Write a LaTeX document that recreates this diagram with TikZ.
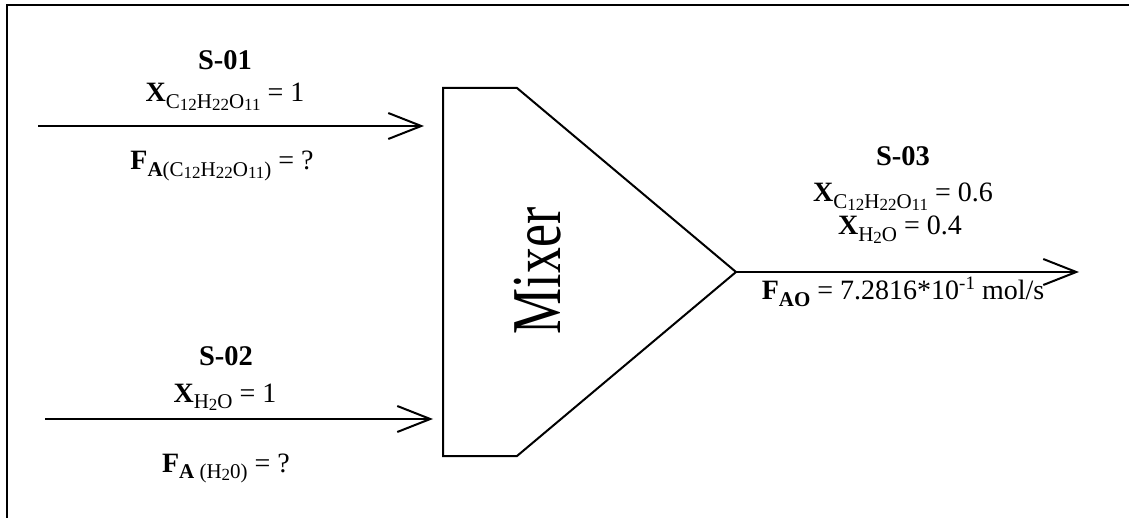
\documentclass[tikz,border=0pt]{standalone}
\usepackage{fontspec}
\usepackage{graphicx}
\setmainfont{Liberation Serif}
\usetikzlibrary{arrows.meta}
\newcommand\lo[1]{\raisebox{-6.5pt}{\fontsize{21}{21}\selectfont #1}}
\newcommand\lolo[1]{\raisebox{-2pt}{\fontsize{17}{17}\selectfont #1}}
\newcommand\sucrose{C\lolo{12}H\lolo{22}O\lolo{11}}
\newcommand\water{H\lolo{2}O}
\begin{document}
\begin{tikzpicture}[x=1pt,y=-1pt,
  lbl/.style={anchor=base,inner sep=0pt,font=\fontsize{28}{28}\selectfont},
  hd/.style={lbl,font=\fontsize{28.5}{28.5}\selectfont\bfseries},
  stream/.style={line width=2pt,-{Straight Barb[length=33pt,width=26pt,line width=2pt]}},
  unit/.style={line width=2pt,line join=miter}]
\useasboundingbox (0,0) rectangle (1129,518);
\draw[line width=2.5pt] (7,518) -- (7,5) -- (1129,5);
% mixer
\draw[unit] (443,88) coordinate (mtl) -- (517,88) -- (736,272) coordinate (tip) -- (517,456) -- (443,456) coordinate (mbl) -- cycle;
\node[rotate=90,inner sep=0pt] (mixer) at (538,271) {\fontsize{70}{70}\selectfont\scalebox{0.74}[1]{Mixer}};
% streams
\coordinate (s1a) at (38,126);
\coordinate (s1b) at (424,126);
\coordinate (s2a) at (45,419);
\coordinate (s2b) at (433,419);
\coordinate (s3b) at (1079,272);
\draw[stream] (s1a) -- (s1b);
\draw[stream] (s2a) -- (s2b);
\draw[stream] (tip) -- (s3b);
% labels S-01
\node[hd] (S01) at (225,70) {S-01};
\node[lbl] (x1) at (225,102) {\textbf{X}\lo{\sucrose} = 1};
\node[lbl] (f1) at (222,170) {\textbf{F}\lo{\textbf{A}(\sucrose)} = ?};
% S-02
\node[hd] (S02) at (226,365) {S-02};
\node[lbl] (x2) at (225,402) {\textbf{X}\lo{\water} = 1};
\node[lbl] (f2) at (226,472) {\textbf{F}\lo{\textbf{A} (H\lolo{2}0)} = ?};
% S-03
\node[hd] (S03) at (903,166) {S-03};
\node[lbl] (x3) at (903,202) {\textbf{X}\lo{\sucrose} = 0.6};
\node[lbl] (x4) at (900,235) {\textbf{X}\lo{\water} = 0.4};
\node[lbl] (f3) at (903,300) {\textbf{F}\lo{\textbf{AO}} = 7.2816*10\raisebox{10pt}{\fontsize{19}{19}\selectfont -1} mol/s};
\end{tikzpicture}
\end{document}
